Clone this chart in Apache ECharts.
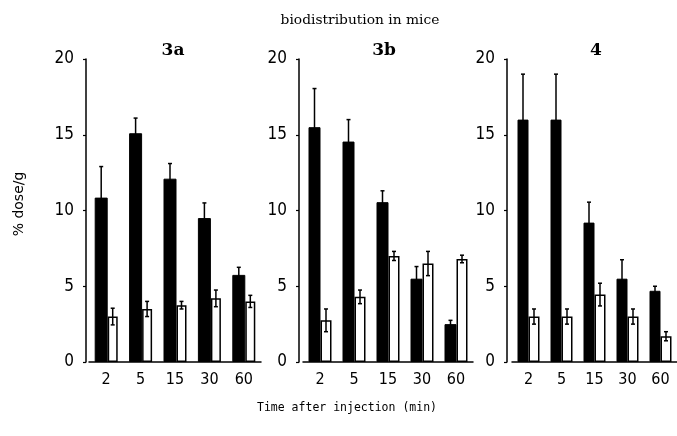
<!DOCTYPE html>
<html><head><meta charset="utf-8">
<script src="https://cdn.jsdelivr.net/npm/echarts@6/dist/echarts.min.js"></script>
<style>html,body{margin:0;padding:0;background:#fff}#c{width:677px;height:436px}</style>
</head><body><div id="c"></div>
<script>
const categories = ['2', '5', '15', '30', '60'];
const yTicks = [0, 5, 10, 15, 20];
const panelTitles = ['3a', '3b', '4'];

const a3Black = [10.85, 15.1, 12.1, 9.5, 5.75];
const a3BlackErr = [2.05, 1.0, 1.0, 1.0, 0.5];
const a3White = [3.0, 3.5, 3.75, 4.2, 4.0];
const a3WhiteErr = [0.55, 0.5, 0.25, 0.55, 0.4];

const b3Black = [15.5, 14.55, 10.55, 5.5, 2.5];
const b3BlackErr = [2.55, 1.45, 0.75, 0.8, 0.25];
const b3White = [2.75, 4.3, 7.0, 6.5, 6.8];
const b3WhiteErr = [0.75, 0.45, 0.3, 0.8, 0.25];

const p4Black = [16.0, 16.0, 9.2, 5.5, 4.7];
const p4BlackErr = [3.0, 3.0, 1.35, 1.25, 0.3];
const p4White = [3.0, 3.0, 4.45, 3.0, 1.7];
const p4WhiteErr = [0.5, 0.5, 0.75, 0.5, 0.3];

const panels = [
  { black: a3Black, blackErr: a3BlackErr, white: a3White, whiteErr: a3WhiteErr },
  { black: b3Black, blackErr: b3BlackErr, white: b3White, whiteErr: b3WhiteErr },
  { black: p4Black, blackErr: p4BlackErr, white: p4White, whiteErr: p4WhiteErr }
];

// layout (style only)
const layout = [
  { left: 89, right: 416, offset: 3, bw: 13, ww: 10, tx: 173 },
  { left: 303, right: 204, offset: 4, bw: 12, ww: 11, tx: 384 },
  { left: 512, right: -3, offset: 5, bw: 11, ww: 11, tx: 596 }
];

const numFont = '"Liberation Sans Narrow", "DejaVu Sans Condensed", "DejaVu Sans"';

const chart = echarts.init(document.getElementById('c'), null, { renderer: 'canvas' });

function errRender(shift) {
  return function (params, api) {
    const i = api.value(0), v = api.value(1), e = api.value(2);
    const top = api.coord([i, v + e]);
    const bot = api.coord([i, v - e]);
    const x = top[0] + shift;
    const st = { stroke: '#000', lineWidth: 1.5 };
    return {
      type: 'group',
      children: [
        { type: 'line', shape: { x1: x, y1: top[1], x2: x, y2: bot[1] }, style: st },
        { type: 'line', shape: { x1: x - 2, y1: top[1], x2: x + 2, y2: top[1] }, style: st },
        { type: 'line', shape: { x1: x - 2, y1: bot[1], x2: x + 2, y2: bot[1] }, style: st }
      ]
    };
  };
}

const grids = [], xAxes = [], yAxes = [], series = [], graphics = [];
panels.forEach((p, k) => {
  const L = layout[k];
  grids.push({ left: L.left, right: L.right, top: 59, bottom: 74, containLabel: false });
  xAxes.push({
    type: 'category', gridIndex: k, data: categories,
    axisLine: { lineStyle: { color: '#000', width: 1.5 } },
    axisTick: { show: false },
    axisLabel: { color: '#000', fontFamily: numFont, fontSize: 16, margin: 10 }
  });
  yAxes.push({
    type: 'value', gridIndex: k, min: 0, max: 20, interval: 5, offset: L.offset,
    axisLine: { show: true, lineStyle: { color: '#000', width: 1.5 } },
    axisTick: { show: true, inside: false, length: 3, lineStyle: { color: '#000', width: 1.2 } },
    splitLine: { show: false },
    axisLabel: { color: '#000', fontFamily: numFont, fontSize: 17, margin: 12,
      formatter: v => yTicks.includes(v) ? String(v) : '' }
  });
  series.push({
    type: 'bar', xAxisIndex: k, yAxisIndex: k, data: p.black, barWidth: L.bw, barGap: '0%',
    itemStyle: { color: '#000', borderColor: '#000', borderWidth: 1 }, silent: true
  });
  series.push({
    type: 'bar', xAxisIndex: k, yAxisIndex: k, data: p.white, barWidth: L.ww, barGap: '0%',
    itemStyle: { color: '#fff', borderColor: '#000', borderWidth: 1.5 }, silent: true
  });
  series.push({
    type: 'custom', xAxisIndex: k, yAxisIndex: k, z: 5, silent: true,
    renderItem: errRender(-L.ww / 2),
    encode: { x: 0, y: 1 },
    data: p.black.map((v, i) => [i, v, p.blackErr[i]])
  });
  series.push({
    type: 'custom', xAxisIndex: k, yAxisIndex: k, z: 5, silent: true,
    renderItem: errRender(L.bw / 2),
    encode: { x: 0, y: 1 },
    data: p.white.map((v, i) => [i, v, p.whiteErr[i]])
  });
  graphics.push({
    type: 'text', x: L.tx, y: 51,
    style: { text: panelTitles[k], font: 'bold 17px "DejaVu Serif"', fill: '#000', textAlign: 'center', textVerticalAlign: 'middle' }
  });
});

graphics.push({
  type: 'text', x: 360, y: 20,
  style: { text: 'biodistribution in mice', font: '13.8px "DejaVu Serif"', fill: '#000', textAlign: 'center', textVerticalAlign: 'middle' }
});
graphics.push({
  type: 'text', x: 347, y: 408,
  style: { text: 'Time after injection (min)', font: '11.5px "DejaVu Sans Mono"', fill: '#000', textAlign: 'center', textVerticalAlign: 'middle' }
});
graphics.push({
  type: 'text', x: 19, y: 204, rotation: Math.PI / 2,
  style: { text: '% dose/g', font: '14px "DejaVu Sans"', fill: '#000', textAlign: 'center', textVerticalAlign: 'middle' }
});

chart.setOption({
  animation: false,
  backgroundColor: '#fff',
  grid: grids, xAxis: xAxes, yAxis: yAxes, series: series, graphic: graphics
});
</script></body></html>
